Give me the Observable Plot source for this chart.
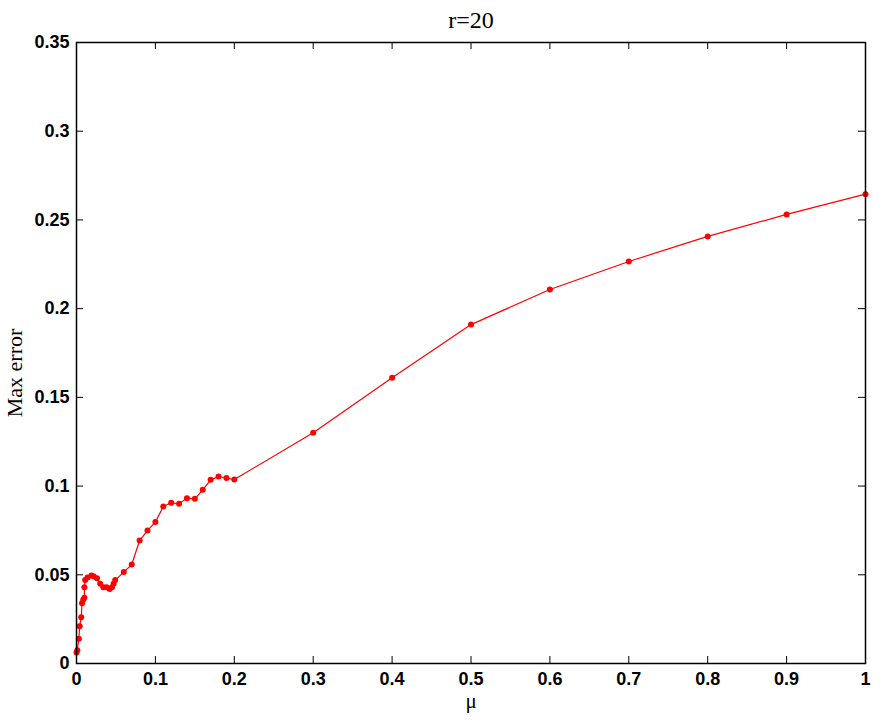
<!DOCTYPE html>
<html>
<head>
<meta charset="utf-8">
<script src="https://cdn.jsdelivr.net/npm/d3@7"></script>
<script src="https://cdn.jsdelivr.net/npm/@observablehq/plot@0.6"></script>
<style>
  html, body { margin: 0; padding: 0; background: #fff; }
  #chart { width: 886px; height: 725px; }
</style>
</head>
<body>
<div id="chart"></div>
<script>
const title = "r=20";
const xLabel = "μ";
const yLabel = "Max error";

const mu = [0.000, 0.001, 0.003, 0.004, 0.006, 0.007, 0.0085, 0.010, 0.010, 0.011, 0.014, 0.019, 0.022, 0.026, 0.030, 0.034, 0.038, 0.042, 0.045, 0.047, 0.049,
  0.06, 0.07, 0.08, 0.09, 0.10, 0.11, 0.12, 0.13, 0.14, 0.15, 0.16, 0.17, 0.18, 0.19, 0.20,
  0.3, 0.4, 0.5, 0.6, 0.7, 0.8, 0.9, 1.0];
const maxError = [0.0062, 0.0075, 0.014, 0.021, 0.026, 0.034, 0.036, 0.037, 0.043, 0.047, 0.0485, 0.0496, 0.049, 0.048, 0.045, 0.043, 0.043, 0.042, 0.043, 0.045, 0.047,
  0.0515, 0.0558, 0.0693, 0.075, 0.0797, 0.0885, 0.0906, 0.0900, 0.0932, 0.0928, 0.0979, 0.1035, 0.1054, 0.1045, 0.1037,
  0.130, 0.161, 0.191, 0.2108, 0.2266, 0.2407, 0.2531, 0.2645];

const xTicks = [0, 0.1, 0.2, 0.3, 0.4, 0.5, 0.6, 0.7, 0.8, 0.9, 1];
const yTicks = [0, 0.05, 0.1, 0.15, 0.2, 0.25, 0.3, 0.35];

const data = mu.map((m, i) => ({mu: m, err: maxError[i]}));

const W = 886, H = 725;
const mT = 42, mB = 62, mL = 76, mR = 21;
const innerH = H - mT - mB, innerW = W - mL - mR;
const tk = 7;

const chart = Plot.plot({
  width: W,
  height: H,
  marginTop: mT,
  marginBottom: mB,
  marginLeft: mL,
  marginRight: mR,
  style: {fontFamily: "Liberation Sans, Arial, sans-serif", background: "#fff", overflow: "visible"},
  x: {domain: [0, 1], ticks: xTicks},
  y: {domain: [0, 0.35], ticks: yTicks},
  marks: [
    Plot.axisX(xTicks, {tickSize: 0, tickPadding: 9, tickFormat: d => String(d), fontSize: 18, fontWeight: "bold", fill: "#000", label: null}),
    Plot.axisY(yTicks, {tickSize: 0, tickPadding: 7, tickFormat: d => String(d), fontSize: 18, fontWeight: "bold", fill: "#000", label: null}),
    Plot.tickX(xTicks, {x: d => d, insetTop: innerH - tk, stroke: "#000", strokeWidth: 1}),
    Plot.tickX(xTicks, {x: d => d, insetBottom: innerH - tk, stroke: "#000", strokeWidth: 1}),
    Plot.tickY(yTicks, {y: d => d, insetRight: innerW - tk, stroke: "#000", strokeWidth: 1}),
    Plot.tickY(yTicks, {y: d => d, insetLeft: innerW - tk, stroke: "#000", strokeWidth: 1}),
    Plot.line(data, {x: "mu", y: "err", stroke: "#ff0000", strokeWidth: 1.2}),
    Plot.dot(data, {x: "mu", y: "err", r: 3, fill: "#ff0000", stroke: "none"}),
    Plot.frame({stroke: "#000", strokeWidth: 1.5}),
    Plot.text([title], {frameAnchor: "top", dy: -32, text: d => d, fontSize: 24, fontFamily: "Liberation Serif, Times New Roman, serif", fill: "#000"}),
    Plot.text([xLabel], {frameAnchor: "bottom", dy: 44, text: d => d, fontSize: 21, fontFamily: "Liberation Serif, serif", fill: "#000"}),
    Plot.text([yLabel], {frameAnchor: "left", textAnchor: "middle", dx: -62, dy: 20, rotate: -90, text: d => d, fontSize: 22, fontFamily: "Liberation Serif, Times New Roman, serif", fill: "#000"})
  ]
});
document.getElementById("chart").appendChild(chart);
</script>
</body>
</html>
